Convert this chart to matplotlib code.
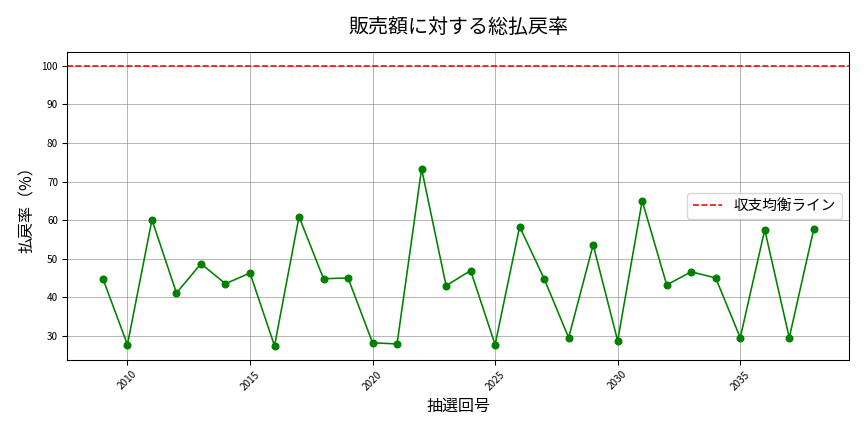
import matplotlib
matplotlib.use('Agg')
import matplotlib.pyplot as plt

plt.rcParams['font.family'] = ['Noto Sans CJK JP', 'DejaVu Sans']

# draw numbers and payout ratio (%)
rounds = list(range(2009, 2039))
payout = [44.8, 27.7, 60.1, 41.1, 48.7, 43.5, 46.3, 27.4, 60.9, 44.8,
          45.0, 28.2, 27.9, 73.3, 43.0, 46.9, 27.7, 58.3, 44.8, 29.5,
          53.6, 28.7, 65.0, 43.2, 46.6, 45.0, 29.5, 57.5, 29.5, 57.7]
breakeven = 100

fig, ax = plt.subplots(figsize=(9, 4.5), dpi=96)
ax.plot(rounds, payout, color='green', marker='o', markersize=5, linewidth=1.2)
ax.axhline(breakeven, color='red', linestyle='--', linewidth=1.2, label='収支均衡ライン')
ax.set_title('販売額に対する総払戻率', fontsize=15, pad=14)
ax.set_xlabel('抽選回号', fontsize=12)
ax.set_ylabel('払戻率（%）', fontsize=12)
ax.tick_params(axis='x', labelsize=7.5, rotation=45)
ax.tick_params(axis='y', labelsize=7.5)
ax.grid(True, color='gray', alpha=0.6, linewidth=0.7)
ax.legend(loc='center right', fontsize=11)
fig.subplots_adjust(left=0.078, right=0.983, top=0.88, bottom=0.167)
fig.savefig('out.png')
